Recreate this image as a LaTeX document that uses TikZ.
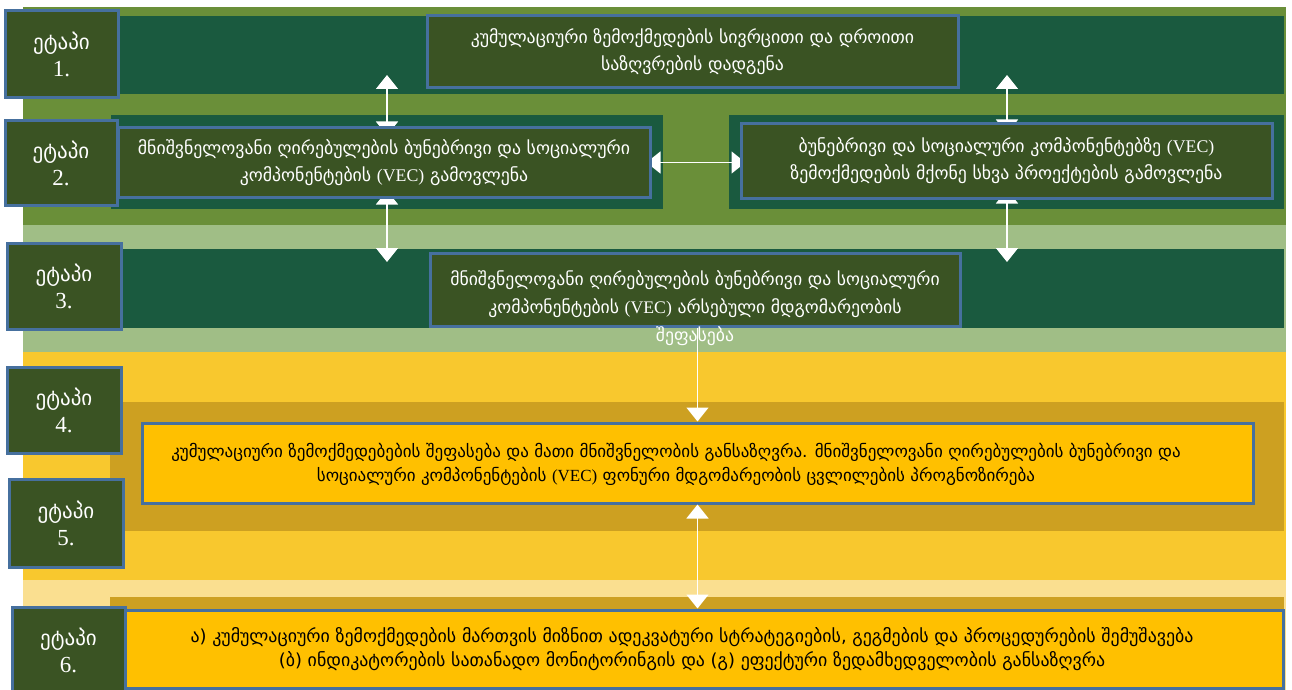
\documentclass[tikz,border=0pt]{standalone}
\usepackage{fontspec}
\setmainfont{DejaVu Sans}
\newfontfamily\serf{Liberation Serif}
\usetikzlibrary{arrows.meta}
\definecolor{cOlv}{HTML}{6A8F39}
\definecolor{cDrk}{HTML}{1A5A3F}
\definecolor{cLgt}{HTML}{A0BE86}
\definecolor{cYbd}{HTML}{F8C82E}
\definecolor{cGld}{HTML}{CDA021}
\definecolor{cPal}{HTML}{FADF90}
\definecolor{cYel}{HTML}{FFC000}
\definecolor{cNod}{HTML}{3A5323}
\definecolor{cBlu}{HTML}{46709E}
\pgfdeclarelayer{bg}
\pgfdeclarelayer{arl}
\pgfsetlayers{bg,arl,main}
\newcommand{\stnum}[1]{{\serf\fontsize{23}{27}\selectfont #1}}
\begin{document}
\begin{tikzpicture}[x=1pt,y=-1pt,
  stagebox/.style={draw=cBlu, line width=3pt, fill=cNod, text=white, align=center, inner sep=0pt, font=\fontsize{21}{27}\selectfont},
  gbox/.style={draw=cBlu, line width=3pt, fill=cNod, text=white, align=center, inner sep=0pt, font=\fontsize{17.8}{27}\selectfont},
  gtext/.style={text=white, align=center, inner sep=0pt, font=\fontsize{17.7}{28}\selectfont},
  ybox/.style={draw=cBlu, line width=3pt, fill=cYel, inner sep=0pt},
  ytext/.style={text=black, align=center, inner sep=0pt, font=\fontsize{17.0}{24}\selectfont},
  arr/.style={draw=white, line width=1.5pt, {Triangle[width=22pt,length=14pt]}-{Triangle[width=22pt,length=14pt]}},
  arrone/.style={draw=white, line width=1.5pt, -{Triangle[width=22pt,length=14pt]}},
]
\useasboundingbox (0,0) rectangle (1292,690);
\begin{pgfonlayer}{bg}
\fill[cOlv] (23,7) rectangle (1286,225);
\fill[cDrk] (25,16) rectangle (1284,94);
\fill[cDrk] (111,115) rectangle (663,209);
\fill[cDrk] (729,115) rectangle (1284,209);
\fill[cLgt] (23,225) rectangle (1286,352);
\fill[cDrk] (25,249) rectangle (1284,328);
\fill[cYbd] (23,352) rectangle (1286,580);
\fill[cGld] (110,402) rectangle (1284,531);
\fill[cPal] (23,580) rectangle (1286,690);
\fill[cGld] (110,597) rectangle (1284,690);
\end{pgfonlayer}
% stage boxes
\node[stagebox, minimum width=113, minimum height=87] (s1) at (61.5,54) {ეტაპი\\\stnum{1.}};
\node[stagebox, minimum width=112, minimum height=85] (s2) at (61,163) {ეტაპი\\\stnum{2.}};
\node[stagebox, minimum width=114, minimum height=86] (s3) at (64,286.5) {ეტაპი\\\stnum{3.}};
\node[stagebox, minimum width=114, minimum height=86] (s4) at (64,410.5) {ეტაპი\\\stnum{4.}};
\node[stagebox, minimum width=114, minimum height=88] (s5) at (66,523.5) {ეტაპი\\\stnum{5.}};
\node[stagebox, minimum width=113, minimum height=86] (s6) at (68.5,650) {ეტაპი\\\stnum{6.}};
% green boxes
\node[gbox, minimum width=531, minimum height=72] (b1) at (692.5,52) {კუმულაციური ზემოქმედების სივრცითი და დროითი\\საზღვრების დადგენა};
\node[gbox, minimum width=532, minimum height=69] (b2L) at (384,162.5) {მნიშვნელოვანი ღირებულების ბუნებრივი და სოციალური\\კომპონენტების  {\serf (VEC)} გამოვლენა};
\node[gbox, minimum width=531, minimum height=74] (b2R) at (1006.5,161) {ბუნებრივი და სოციალური კომპონენტებზე {\serf (VEC)}\\ზემოქმედების მქონე სხვა პროექტების გამოვლენა};
\node[gbox, minimum width=530, minimum height=73] (b3) at (695,289.5) {};
\node[gtext] (b3t) at (695,308) {მნიშვნელოვანი ღირებულების ბუნებრივი და სოციალური\\კომპონენტების {\serf (VEC)}  არსებული მდგომარეობის\\შეფასება};
% yellow boxes
\node[ybox, minimum width=1111, minimum height=80] (b4) at (697.5,463) {};
\node[ytext] (b4t) at (676,464.5) {კუმულაციური ზემოქმედებების შეფასება და მათი მნიშვნელობის განსაზღვრა. მნიშვნელოვანი ღირებულების ბუნებრივი და\\სოციალური კომპონენტების {\serf (VEC)} ფონური მდგომარეობის ცვლილების პროგნოზირება};
\node[ybox, minimum width=1158, minimum height=78] (b6) at (704,649) {};
\node[ytext, font=\fontsize{17.9}{24}\selectfont] (b6t) at (692,649) {ა) კუმულაციური ზემოქმედების მართვის მიზნით ადეკვატური სტრატეგიების, გეგმების და პროცედურების შემუშავება\\(ბ) ინდიკატორების სათანადო მონიტორინგის და (გ) ეფექტური ზედამხედველობის განსაზღვრა};
% arrows behind boxes
\coordinate (a1top) at (387,75);
\coordinate (a2bot) at (387,262);
\coordinate (a3top) at (1007,75);
\coordinate (a4bot) at (1007,262);
\begin{pgfonlayer}{arl}
\draw[arr, shorten >=-9pt] (a1top) -- (a1top |- b2L.north);
\draw[arr, shorten <=-8pt] (a2bot |- b2L.south) -- (a2bot);
\draw[arr, shorten >=-11pt] (a3top) -- (a3top |- b2R.north);
\draw[arr, shorten <=-10pt] (a4bot |- b2R.south) -- (a4bot);
\draw[arr, shorten <=-5pt, shorten >=-6pt] (b2L.east) -- (b2R.west |- b2L.east);
\end{pgfonlayer}
\draw[arrone] (b4.north |- b3.south) -- (b4.north);
\draw[arr] (b4.south) -- (b6.north -| b4.south);
\end{tikzpicture}
\end{document}
